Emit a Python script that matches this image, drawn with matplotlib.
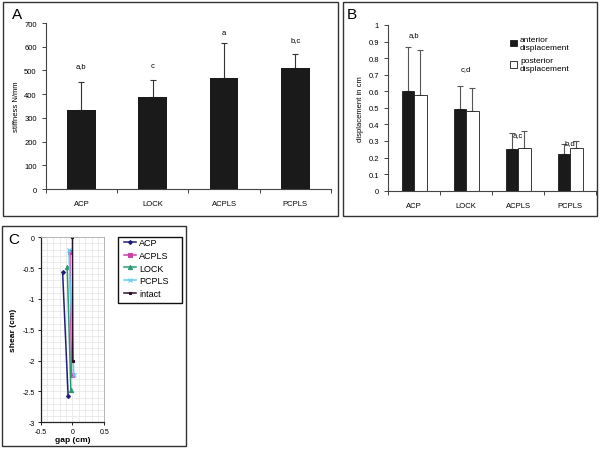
import matplotlib.pyplot as plt
import numpy as np
from matplotlib.patches import Rectangle

plt.rcParams['font.family'] = ['Liberation Sans', 'DejaVu Sans']

# Panel A data
cats = ['ACP', 'LOCK', 'ACPLS', 'PCPLS']
stiffness = [333, 388, 470, 510]
stiffness_err = [117, 72, 145, 60]
stiff_letters = ['a,b', 'c', 'a', 'b,c']
stiff_letter_y = [520, 520, 662, 631]

# Panel B data
anterior = [0.60, 0.49, 0.25, 0.22]
anterior_err = [0.265, 0.14, 0.10, 0.06]
posterior = [0.58, 0.48, 0.26, 0.255]
posterior_err = [0.27, 0.14, 0.10, 0.045]
disp_letters = ['a,b', 'c,d', 'a,c', 'b,d']
disp_letter_y = [0.94, 0.735, 0.336, 0.288]

# Panel C data (gap, shear) two points each
c_series = ['ACP', 'ACPLS', 'LOCK', 'PCPLS', 'intact']
c_gap = [[-0.155, -0.068], [-0.04, -0.015], [-0.083, -0.026], [-0.057, 0.02], [0.0, 0.005]]
c_shear = [[-0.57, -2.58], [-0.245, -2.24], [-0.475, -2.47], [-0.205, -2.23], [0.0, -2.0]]
c_colors = ['#1f1f7a', '#cc44aa', '#2a9a70', '#66ccee', '#2a0f2a']
c_markers = ['D', 's', '^', 'x', 's']
c_msize = [2, 3, 3, 3, 2]

W, H = 600, 452
fig = plt.figure(figsize=(6, 4.52), dpi=100)

def px_box(x0, y0, x1, y1, lw=1.0, col='#333333'):
    fig.patches.append(Rectangle((x0 / W, 1 - y1 / H), (x1 - x0) / W, (y1 - y0) / H,
                                 transform=fig.transFigure, fill=False,
                                 edgecolor=col, linewidth=lw))

px_box(3, 3, 338, 217)
px_box(343, 3, 597, 217)
px_box(2, 227, 186, 447)

fs = 5.5
spine_col = '#444444'

# ---- Panel A ----
axA = fig.add_axes([0.0762, 0.5796, 0.4755, 0.3673])
x = np.arange(len(cats))
axA.bar(x, stiffness, width=0.4, color='#1a1a1a', zorder=2)
axA.errorbar(x, stiffness, yerr=[np.zeros(4), stiffness_err], fmt='none',
             ecolor='#333333', elinewidth=0.8, capsize=2.5, capthick=0.8, zorder=1)
for i, (t, ty) in enumerate(zip(stiff_letters, stiff_letter_y)):
    axA.text(i, ty, t, ha='center', va='center', fontsize=fs)
axA.set_xlim(-0.5, 3.5)
axA.set_ylim(0, 700)
axA.set_yticks(range(0, 701, 100))
axA.set_xticks(x)
axA.set_xticklabels(cats)
axA.set_xticks(np.arange(-0.5, 4, 1), minor=True)
axA.tick_params(axis='x', which='major', length=0, labelsize=fs, pad=8)
axA.tick_params(axis='x', which='minor', length=3, width=0.7, color=spine_col)
axA.tick_params(axis='y', length=3, width=0.7, labelsize=fs, color=spine_col)
axA.set_ylabel('stiffness N/mm', fontsize=fs, labelpad=3)
for s in ['top', 'right']:
    axA.spines[s].set_visible(False)
for s in ['left', 'bottom']:
    axA.spines[s].set_color(spine_col)
    axA.spines[s].set_linewidth(0.8)

# ---- Panel B ----
axB = fig.add_axes([0.6467, 0.5759, 0.3467, 0.3666])
w = 0.24
axB.bar(x - w / 2, anterior, width=w, color='#1a1a1a', edgecolor='#1a1a1a',
        linewidth=0.6, zorder=2, label='anterior\ndisplacement')
axB.bar(x + w / 2, posterior, width=w, color='white', edgecolor='#1a1a1a',
        linewidth=0.6, zorder=2, label='posterior\ndisplacement')
axB.errorbar(x - w / 2, anterior, yerr=[np.zeros(4), anterior_err], fmt='none',
             ecolor='#555555', elinewidth=0.8, capsize=2.5, capthick=0.8, zorder=1)
axB.errorbar(x + w / 2, posterior, yerr=[np.zeros(4), posterior_err], fmt='none',
             ecolor='#555555', elinewidth=0.8, capsize=2.5, capthick=0.8, zorder=1)
for i, (t, ty) in enumerate(zip(disp_letters, disp_letter_y)):
    axB.text(i, ty, t, ha='center', va='center', fontsize=fs)
axB.set_xlim(-0.5, 3.5)
axB.set_ylim(0, 1)
yt = np.round(np.arange(0, 1.01, 0.1), 1)
axB.set_yticks(yt)
axB.set_yticklabels(['0'] + ['%.1f' % v for v in yt[1:-1]] + ['1'])
axB.set_xticks(x)
axB.set_xticklabels(cats)
axB.set_xticks(np.arange(-0.5, 4, 1), minor=True)
axB.tick_params(axis='x', which='major', length=0, labelsize=fs, pad=8)
axB.tick_params(axis='x', which='minor', length=3, width=0.7, color=spine_col)
axB.tick_params(axis='y', length=3, width=0.7, labelsize=fs, color=spine_col)
axB.set_ylabel('displacement in cm', fontsize=fs, labelpad=3)
for s in ['top', 'right']:
    axB.spines[s].set_visible(False)
for s in ['left', 'bottom']:
    axB.spines[s].set_color(spine_col)
    axB.spines[s].set_linewidth(0.8)
axB.legend(loc='upper left', bbox_to_anchor=(0.55, 0.98), frameon=False, fontsize=6,
           handlelength=0.8, handleheight=0.8, handletextpad=0.4, labelspacing=0.8)

# ---- Panel C ----
axC = fig.add_axes([0.0678, 0.0635, 0.106, 0.4093])
for name, gx, sy, col, mk, ms in zip(c_series, c_gap, c_shear, c_colors, c_markers, c_msize):
    axC.plot(gx, sy, color=col, marker=mk, markersize=ms, linewidth=1.1, label=name,
             markeredgewidth=0.8)
axC.set_xlim(-0.5, 0.5)
axC.set_ylim(-3, 0)
axC.set_xticks([-0.5, 0, 0.5])
axC.set_xticklabels(['-0.5', '0', '0.5'])
axC.set_yticks(np.arange(-3, 0.01, 0.5))
axC.set_yticklabels(['-3', '-2.5', '-2', '-1.5', '-1', '-0.5', '0'])
axC.set_xticks(np.arange(-0.5, 0.51, 0.1), minor=True)
axC.set_yticks(np.arange(-3, 0.01, 0.1), minor=True)
axC.grid(which='both', color='#e4e4e4', linewidth=0.5)
axC.set_axisbelow(True)
axC.tick_params(which='minor', length=0)
axC.tick_params(which='major', length=2.5, width=0.7, labelsize=5, color='#222222', pad=1.5)
axC.set_xlabel('gap (cm)', fontsize=6, fontweight='bold', labelpad=1)
axC.set_ylabel('shear (cm)', fontsize=6, fontweight='bold', labelpad=4)
for s in ['top', 'right']:
    axC.spines[s].set_color('#aaaaaa')
    axC.spines[s].set_linewidth(0.6)
for s in ['left', 'bottom']:
    axC.spines[s].set_color('#222222')
    axC.spines[s].set_linewidth(0.9)
# legend without its own frame; the frame is drawn as a figure box
axC.legend(loc='upper left', bbox_to_anchor=(124 / W, 1 - 239 / H),
           bbox_transform=fig.transFigure, fontsize=6.5, frameon=False,
           handlelength=1.3, handletextpad=0.35, labelspacing=0.42,
           borderpad=0, borderaxespad=0)
px_box(118, 238, 182, 304, lw=1.0, col='#111111')

fig.text(12 / W, 1 - 15 / H, 'A', fontsize=11, va='center', ha='left')
fig.text(347 / W, 1 - 15 / H, 'B', fontsize=11, va='center', ha='left')
fig.text(8 / W, 1 - 240 / H, 'C', fontsize=11, va='center', ha='left')

fig.savefig('out.png', dpi=100)
